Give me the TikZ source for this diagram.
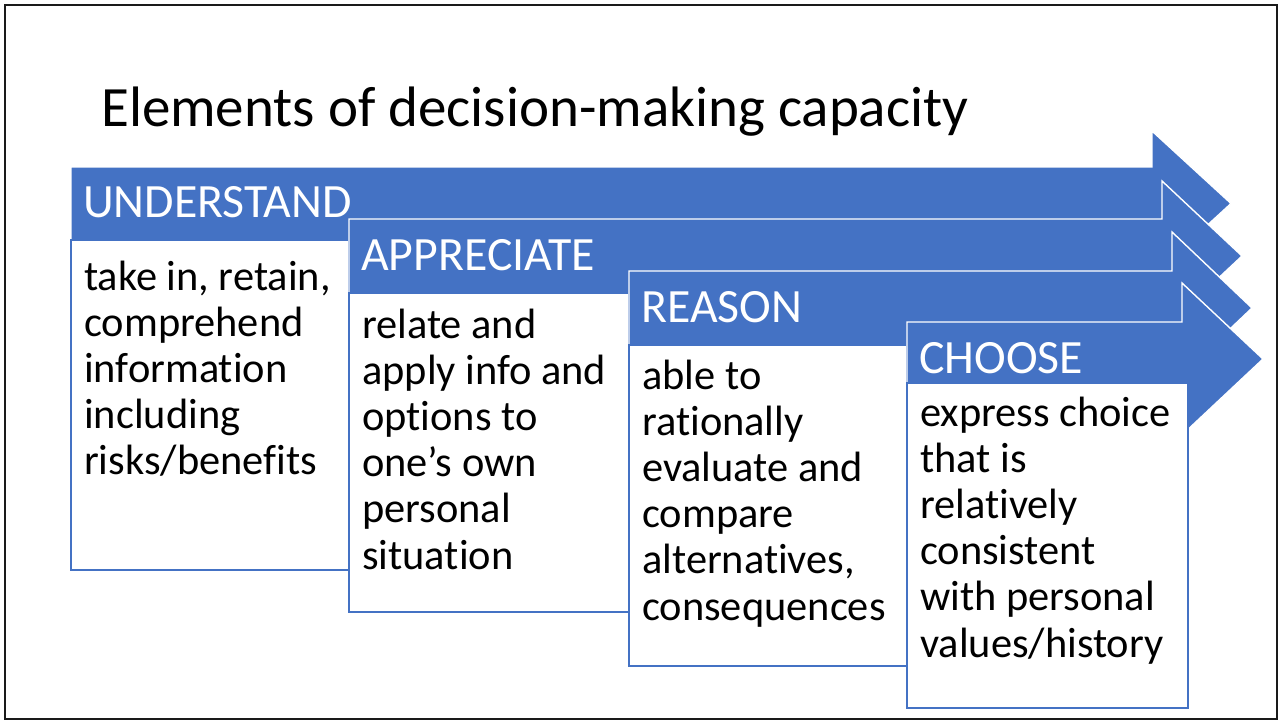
\documentclass[tikz,border=0pt]{standalone}
\usepackage{fontspec}
\setmainfont{Carlito}[Ligatures=NoCommon]
\definecolor{accent}{HTML}{4472C4}
\definecolor{frameline}{HTML}{1A1A1A}
\tikzset{
  x=1pt, y=-1pt,
  steparrow/.style={fill=accent, draw=white, line width=1.4pt, line join=miter},
  textbox/.style={fill=white, draw=accent, line width=1.1pt},
  heading/.style={anchor=base west, inner sep=0pt, text=white, font=\fontsize{47.8}{54}\selectfont},
  bodytext/.style={anchor=base west, inner sep=0pt, text=black, font=\fontsize{42.4}{46.2}\selectfont},
  titletext/.style={anchor=base west, inner sep=0pt, text=black, font=\fontsize{57}{66}\selectfont},
}
% arrow: left, bar top, centre line, notch x, head top, tip x
\newcommand{\stepshape}[6]{%
  \draw[steparrow] (#1,#2) -- (#4,#2) -- (#4,#5) -- (#6,#3)
    -- (#4,{2*#3-#5}) -- (#4,{2*#3-#2}) -- (#1,{2*#3-#2}) -- cycle;}
\newcommand{\bodylines}[1]{\parbox[t]{400pt}{\raggedright #1}}
\begin{document}
\begin{tikzpicture}
\useasboundingbox (0,0) rectangle (1281,721);
\draw[frameline, line width=2pt] (4.5,4.5) rectangle (1277,718.5);

\node[titletext] (title) at (101,126) {Elements of decision-making capacity};

% step 1
\stepshape{71}{167}{203.5}{1152}{131}{1231}
\draw[textbox] (71,240) rectangle (349,570);
\node[heading] (h1) at (83,217) {UNDERSTAND};
\node[bodytext] (b1) at (84,290) {\bodylines{take in, retain,\\comprehend\\information\\including\\risks/benefits}};

% step 2
\stepshape{349}{219}{256}{1162}{181}{1242}
\draw[textbox] (349,293) rectangle (629,612);
\node[heading] (h2) at (361,270) {APPRECIATE};
\node[bodytext] (b2) at (362,338) {\bodylines{relate and\\apply info and\\options to\\one’s own\\personal\\situation}};

% step 3
\stepshape{629}{271}{308}{1172}{232}{1252}
\draw[textbox] (629,345) rectangle (907,666);
\node[heading] (h3) at (641,322) {REASON};
\node[bodytext] (b3) at (642,389) {\bodylines{able to\\rationally\\evaluate and\\compare\\alternatives,\\consequences}};

% step 4
\stepshape{907}{322}{359}{1182}{283}{1263}
\draw[textbox] (907,383) rectangle (1188,708);
\node[heading] (h4) at (919,373) {CHOOSE};
\node[bodytext] (b4) at (920,426) {\bodylines{express choice\\that is\\relatively\\consistent\\with personal\\values/history}};
\end{tikzpicture}
\end{document}
